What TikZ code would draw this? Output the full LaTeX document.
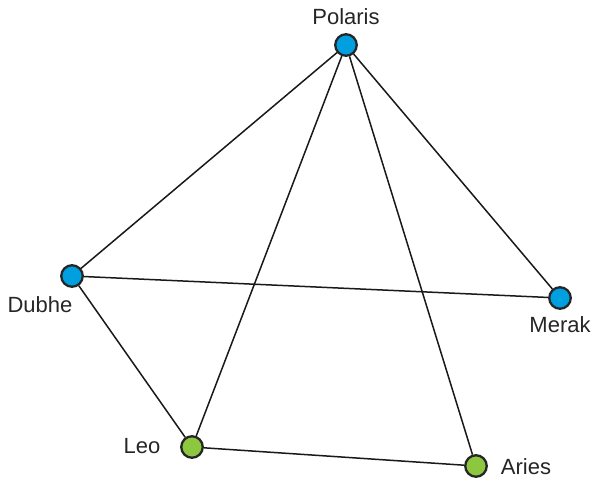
\documentclass[tikz,border=0pt]{standalone}
\usepackage{fontspec}
\setmainfont{Liberation Sans}
\usetikzlibrary{positioning}

\definecolor{starblue}{HTML}{00A0E0}
\definecolor{stargreen}{HTML}{8DC63F}

\begin{document}
\begin{tikzpicture}[
    x=1pt,y=-1pt,
    star/.style={circle,draw=black!85,line width=2.3pt,inner sep=0pt,minimum size=21.5pt},
    blue/.style={star,fill=starblue},
    green/.style={star,fill=stargreen},
    lbl/.style={font=\fontsize{22}{25}\selectfont,text=black!85,inner sep=0pt},
    edge/.style={draw=black!90,line width=1.5pt}
]
\useasboundingbox (0,0) rectangle (592,481);

%--- Nodes ---%
\node[blue] (polaris) at (346,45) {};
\node[blue] (dubhe) at (72,276) {};
\node[blue] (merak) at (560,298) {};
\node[green] (leo) at (192,447) {};
\node[green] (aries) at (476,466) {};

%--- Labels ---%
\node[lbl] (polarislbl) at (346,17) {Polaris};
\node[lbl] (dubhelbl) at (40,305) {Dubhe};
\node[lbl] (meraklbl) at (560,325) {Merak};
\node[lbl] (leolbl) at (142,446) {Leo};
\node[lbl] (arieslbl) at (526,467) {Aries};

%--- Edges ---%
\draw[edge] (polaris) -- (dubhe);
\draw[edge] (polaris) -- (merak);
\draw[edge] (polaris) -- (leo);
\draw[edge] (polaris) -- (aries);
\draw[edge] (dubhe) -- (merak);
\draw[edge] (dubhe) -- (leo);
\draw[edge] (leo) -- (aries);

\end{tikzpicture}
\end{document}
